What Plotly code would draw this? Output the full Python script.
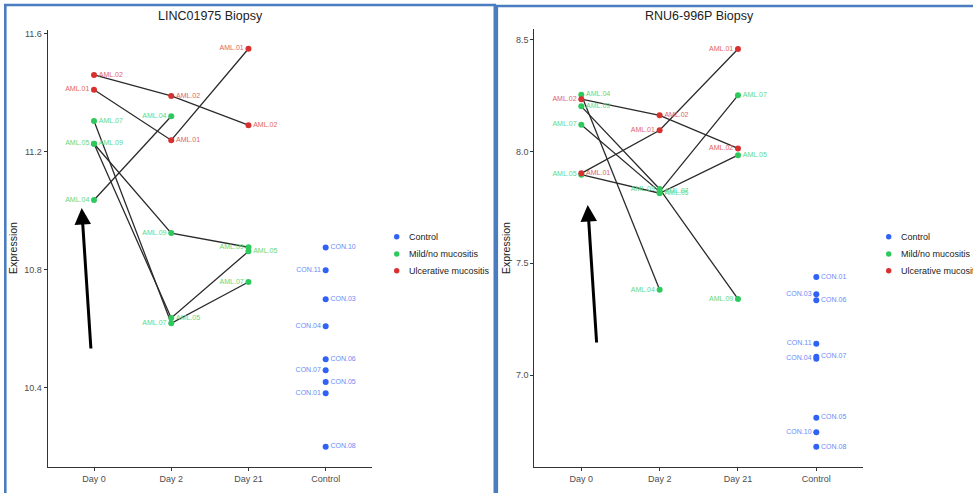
import plotly.graph_objects as go

# ---------------- data ----------------
CATEGORIES = ["Day 0", "Day 2", "Day 21", "Control"]
DAYS = ["Day 0", "Day 2", "Day 21"]
PATIENTS = ["AML.01", "AML.02", "AML.04", "AML.05", "AML.07", "AML.09"]
PATIENT_GROUP = ["Ulcerative mucositis", "Ulcerative mucositis", "Mild/no mucositis",
                 "Mild/no mucositis", "Mild/no mucositis", "Mild/no mucositis"]
CONTROLS = ["CON.01", "CON.03", "CON.04", "CON.05", "CON.06", "CON.07", "CON.08", "CON.10", "CON.11"]
GROUPS = ["Control", "Mild/no mucositis", "Ulcerative mucositis"]

# LINC01975 Biopsy
LINC_DAY0 = [11.41, 11.46, 11.036, 11.227, 11.304, 11.227]
LINC_DAY2 = [11.239, 11.389, 11.32, 10.636, 10.618, 10.924]
LINC_DAY21 = [11.549, 11.29, None, 10.862, 10.758, 10.876]
LINC_CON = [10.381, 10.70, 10.608, 10.419, 10.496, 10.459, 10.20, 10.875, 10.798]

# RNU6-996P Biopsy
RNU_DAY0 = [7.902, 8.233, 8.253, 7.896, 8.119, 8.201]
RNU_DAY2 = [8.094, 8.161, 7.382, 7.813, 7.820, 7.832]
RNU_DAY21 = [8.457, 8.013, None, 7.983, 8.250, 7.341]
RNU_CON = [7.439, 7.362, 7.074, 6.811, 7.335, 7.083, 6.681, 6.746, 7.141]

# ---------------- label sides (style) ----------------
LINC_SIDE = [
    ["left", "right", "left", "left", "right", "right"],
    ["right", "right", "left", "right", "left", "left"],
    ["left", "right", "left", "right", "left", "left"],
]
LINC_CON_SIDE = ["left", "right", "left", "right", "right", "left", "right", "right", "left"]
RNU_SIDE = [
    ["right", "left", "right", "left", "left", "right"],
    ["left", "right", "left", "right", "right", "left"],
    ["left", "left", "left", "right", "right", "left"],
]
RNU_CON_SIDE = ["right", "left", "left", "right", "right", "right", "right", "left", "left"]

COLORS = {"Control": "#2F62F5", "Mild/no mucositis": "#2EC95C", "Ulcerative mucositis": "#D7302F"}
TEXT_COLORS = {"Control": "#6A8CF7", "Mild/no mucositis": "#5ED884", "Ulcerative mucositis": "#E06463"}

W, H = 973, 493
FONT = "Liberation Sans, Arial, sans-serif"

fig = go.Figure()


def add_panel(xa, ya, day_vals, con_vals, sides, con_sides):
    # lines per patient
    for i, p in enumerate(PATIENTS):
        xs, ys = [], []
        for d, vals in zip(DAYS, day_vals):
            if vals[i] is not None:
                xs.append(d)
                ys.append(vals[i])
        fig.add_trace(go.Scatter(x=xs, y=ys, mode="lines", xaxis=xa, yaxis=ya,
                                 line=dict(color="#2b2b2b", width=1.3),
                                 showlegend=False, hoverinfo="skip"))
    # points per group
    for g in GROUPS:
        xs, ys, txt, pos = [], [], [], []
        if g == "Control":
            for c, v, s in zip(CONTROLS, con_vals, con_sides):
                xs.append("Control"); ys.append(v); txt.append(c); pos.append("middle " + s)
        else:
            for di, (d, vals) in enumerate(zip(DAYS, day_vals)):
                for i, p in enumerate(PATIENTS):
                    if PATIENT_GROUP[i] == g and vals[i] is not None:
                        xs.append(d); ys.append(vals[i]); txt.append(p)
                        pos.append("middle " + sides[di][i])
        fig.add_trace(go.Scatter(x=xs, y=ys, mode="markers+text", xaxis=xa, yaxis=ya,
                                 text=txt, textposition=pos, cliponaxis=False,
                                 textfont=dict(size=7, color=TEXT_COLORS[g], family=FONT),
                                 marker=dict(size=6, color=COLORS[g]),
                                 name=g, showlegend=False))


add_panel("x", "y", [LINC_DAY0, LINC_DAY2, LINC_DAY21], LINC_CON, LINC_SIDE, LINC_CON_SIDE)
add_panel("x2", "y2", [RNU_DAY0, RNU_DAY2, RNU_DAY21], RNU_CON, RNU_SIDE, RNU_CON_SIDE)

axis_common = dict(showgrid=False, zeroline=False, showline=True, linecolor="#333333",
                   linewidth=1.1, ticks="outside", ticklen=3, tickcolor="#333333",
                   tickfont=dict(size=9, color="#4D4D4D", family=FONT))

fig.update_layout(
    width=W, height=H, margin=dict(l=0, r=0, t=0, b=0),
    paper_bgcolor="white", plot_bgcolor="white",
    font=dict(family=FONT),
    xaxis=dict(domain=[47.7 / W, 372 / W], type="category", categoryorder="array",
               categoryarray=CATEGORIES, range=[-0.6, 3.6], anchor="y", **axis_common),
    yaxis=dict(domain=[1 - 466.7 / H, 1 - 30 / H], range=[10.132, 11.6125], anchor="x",
               tickvals=[10.4, 10.8, 11.2, 11.6], tickformat=".1f", **axis_common),
    xaxis2=dict(domain=[534.3 / W, 863.3 / W], type="category", categoryorder="array",
                categoryarray=CATEGORIES, range=[-0.6, 3.6], anchor="y2", **axis_common),
    yaxis2=dict(domain=[1 - 466.7 / H, 1 - 29.3 / H], range=[6.592, 8.545], anchor="x2",
                tickvals=[7.0, 7.5, 8.0, 8.5], tickformat=".1f", **axis_common),
    showlegend=False,
)

ann = []
shapes = []
# titles and axis titles
for cx, title, ylab_x in [(210, "LINC01975 Biopsy", 13), (699, "RNU6-996P Biopsy", 506)]:
    ann.append(dict(x=cx / W, y=1 - 15.7 / H, xref="paper", yref="paper", text=title,
                    showarrow=False, xanchor="center", yanchor="middle",
                    font=dict(size=12.5, color="#222222", family=FONT)))
    ann.append(dict(x=ylab_x / W, y=1 - 248 / H, xref="paper", yref="paper", text="Expression",
                    textangle=-90, showarrow=False, xanchor="center", yanchor="middle",
                    font=dict(size=10.5, color="#222222", family=FONT)))

# manual legends
for mx, tx in [(396.7, 406.7), (888.7, 899.3)]:
    for g, ly in zip(GROUPS, [236.7, 254.0, 270.7]):
        shapes.append(dict(type="circle", xref="paper", yref="paper", xsizemode="pixel",
                           ysizemode="pixel", xanchor=mx / W, yanchor=1 - ly / H,
                           x0=-2.7, x1=2.7, y0=-2.7, y1=2.7,
                           fillcolor=COLORS[g], line=dict(width=0)))
        ann.append(dict(x=tx / W, y=1 - ly / H, xref="paper", yref="paper", text=g,
                        showarrow=False, xanchor="left", yanchor="middle",
                        font=dict(size=9, color="#222222", family=FONT)))

# black arrows
for tipx, tipy, tailx, taily in [(81.7, 208, 91, 350), (587.7, 205, 596.7, 344)]:
    ann.append(dict(x=tipx / W, y=1 - tipy / H, xref="paper", yref="paper", text="",
                    showarrow=True, arrowhead=2, arrowsize=1.1, arrowwidth=3,
                    arrowcolor="black", ax=tailx - tipx, ay=taily - tipy,
                    axref="pixel", ayref="pixel"))

# blue frames
FRAME = "#4A7DBF"
shapes.append(dict(type="path", xref="paper", yref="paper",
                   path=f"M {5.3/W} -0.05 L {5.3/W} {1-5/H} L {494.8/W} {1-5/H} L {494.8/W} -0.05",
                   line=dict(color=FRAME, width=2.6)))
shapes.append(dict(type="path", xref="paper", yref="paper",
                   path=f"M {496.8/W} -0.05 L {496.8/W} {1-6/H} L 1.05 {1-6/H}",
                   line=dict(color=FRAME, width=2.6)))

fig.update_layout(annotations=ann, shapes=shapes)
fig.write_html("out.html")
